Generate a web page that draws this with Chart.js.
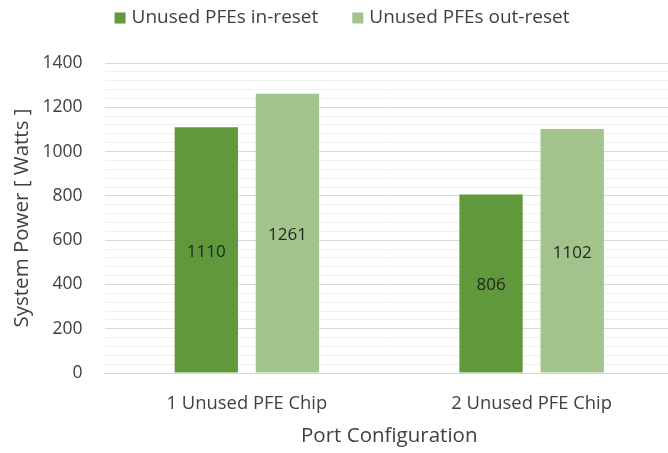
<!DOCTYPE html>
<html>
<head>
<meta charset="utf-8">
<script src="https://cdn.jsdelivr.net/npm/chart.js@4"></script>
<style>
  html, body { margin: 0; padding: 0; background: #fff; overflow: hidden; }
  #wrap { width: 674px; height: 453px; position: relative; }
</style>
</head>
<body>
<div id="wrap"><canvas id="c"></canvas></div>
<script>
const categories = ["1 Unused PFE Chip", "2 Unused PFE Chip"];
const seriesNames = ["Unused PFEs in-reset", "Unused PFEs out-reset"];
const inReset = [1110, 806];
const outReset = [1261, 1102];
const yMin = 0, yMax = 1400, yMajorStep = 200, yMinorStep = 40;

const FONT = "'Open Sans', 'Noto Sans', sans-serif";
const TXT = '#404040';

const barLabels = {
  id: 'barLabels',
  afterDatasetsDraw(chart) {
    const ctx = chart.ctx;
    ctx.save();
    ctx.font = "17px " + FONT;
    ctx.fillStyle = '#262626';
    ctx.textAlign = 'center';
    ctx.textBaseline = 'middle';
    chart.data.datasets.forEach((ds, i) => {
      const meta = chart.getDatasetMeta(i);
      meta.data.forEach((bar, j) => {
        const y = (bar.y + bar.base) / 2;
        ctx.fillText(String(ds.data[j]), bar.x, y + 2);
      });
    });
    ctx.restore();
  }
};

// Legend drawn from the datasets (labels + colours)
const topLegend = {
  id: 'topLegend',
  afterDraw(chart) {
    const ctx = chart.ctx;
    const box = 11, gapText = 6, gapItem = 34, cy = 18, centerX = 342;
    ctx.save();
    ctx.font = "19px " + FONT;
    ctx.textBaseline = 'middle';
    ctx.textAlign = 'left';
    const items = chart.data.datasets.map(ds => ({ t: ds.label, c: ds.backgroundColor, w: ctx.measureText(ds.label).width }));
    let total = 0;
    items.forEach((it, i) => { total += box + gapText + it.w + (i < items.length - 1 ? gapItem : 0); });
    let x = centerX - total / 2;
    items.forEach(it => {
      ctx.fillStyle = it.c;
      ctx.fillRect(x, cy - box / 2, box, box);
      x += box + gapText;
      ctx.fillStyle = TXT;
      ctx.fillText(it.t, x, cy);
      x += it.w + gapItem;
    });
    ctx.restore();
  }
};

new Chart(document.getElementById('c'), {
  type: 'bar',
  data: {
    labels: categories,
    datasets: [
      { label: seriesNames[0], data: inReset, backgroundColor: '#5f993b', categoryPercentage: 0.57, barPercentage: 0.78 },
      { label: seriesNames[1], data: outReset, backgroundColor: '#a2c48c', categoryPercentage: 0.57, barPercentage: 0.78 }
    ]
  },
  options: {
    responsive: true,
    maintainAspectRatio: false,
    animation: false,
    layout: { padding: { top: 63, bottom: 5, left: 10, right: 0 } },
    plugins: {
      legend: { display: false },
      tooltip: { enabled: false }
    },
    scales: {
      x: {
        afterFit: (s) => { s.height = 75; },
        grid: { display: false },
        border: { display: true, color: '#d9d9d9' },
        ticks: { font: { family: FONT, size: 18.4 }, color: TXT, padding: 12 },
        title: { display: true, text: 'Port Configuration', font: { family: FONT, size: 20.5 }, color: TXT, padding: { top: 10, bottom: 0 } }
      },
      y: {
        min: yMin, max: yMax,
        afterFit: (s) => { s.width = 94.5; },
        border: { display: false },
        grid: {
          drawTicks: false,
          color: (c) => (c.tick && c.tick.value % yMajorStep === 0) ? '#d9d9d9' : '#efefef'
        },
        ticks: {
          stepSize: yMinorStep,
          autoSkip: false,
          font: { family: FONT, size: 17.5 }, color: TXT, padding: 22,
          callback: (v) => (v % yMajorStep === 0 ? String(v) : '')
        },
        title: { display: true, text: 'System Power [ Watts ]', font: { family: FONT, size: 20.5 }, color: TXT, padding: { top: 0, bottom: 8 } }
      }
    }
  },
  plugins: [barLabels, topLegend]
});
</script>
</body>
</html>
